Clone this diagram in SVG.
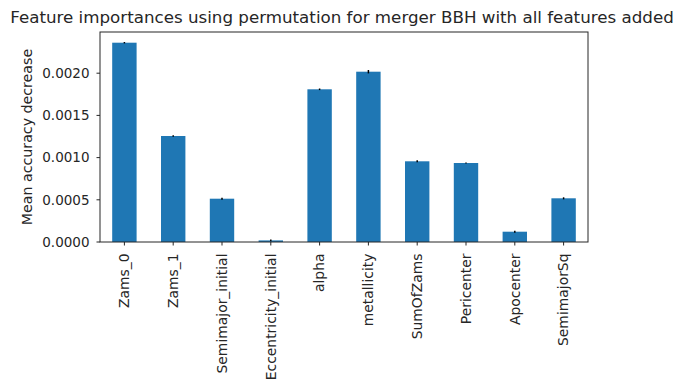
<svg xmlns="http://www.w3.org/2000/svg" width="676" height="383" viewBox="0 0 676 383">
<style>
text{font-family:"DejaVu Sans",sans-serif;fill:#262626;}
.tl{font-size:13.5px;}
.xl{font-size:13.9px;}
.bar{fill:#1f77b4;}
.tk{stroke:#262626;stroke-width:1;}
.err{stroke:#000;stroke-width:1.5;}
</style>
<rect width="676" height="383" fill="#fff"/>
<text x="342" y="22.5" font-size="16.7px" text-anchor="middle">Feature importances using permutation for merger BBH with all features added</text>
<g id="bars">
<rect class="bar" x="112.2" y="42.7" width="24.4" height="199.3"/>
<rect class="bar" x="161" y="136" width="24.4" height="106"/>
<rect class="bar" x="209.8" y="198.7" width="24.4" height="43.3"/>
<rect class="bar" x="258.6" y="240.4" width="24.4" height="1.6"/>
<rect class="bar" x="307.4" y="89.3" width="24.4" height="152.7"/>
<rect class="bar" x="356.2" y="71.7" width="24.4" height="170.3"/>
<rect class="bar" x="405" y="161.3" width="24.4" height="80.7"/>
<rect class="bar" x="453.8" y="163" width="24.4" height="79"/>
<rect class="bar" x="502.6" y="231.7" width="24.4" height="10.3"/>
<rect class="bar" x="551.4" y="198.3" width="24.4" height="43.7"/>
</g>
<g id="errorbars">
<line class="err" x1="124.4" y1="42" x2="124.4" y2="43.4"/>
<line class="err" x1="173.2" y1="135.2" x2="173.2" y2="136.8"/>
<line class="err" x1="222" y1="197.7" x2="222" y2="199.7"/>
<line class="err" x1="270.8" y1="239.6" x2="270.8" y2="241.2"/>
<line class="err" x1="319.6" y1="88.5" x2="319.6" y2="90.1"/>
<line class="err" x1="368.4" y1="70" x2="368.4" y2="73.4"/>
<line class="err" x1="417.2" y1="160.3" x2="417.2" y2="162.3"/>
<line class="err" x1="466" y1="162.4" x2="466" y2="163.6"/>
<line class="err" x1="514.8" y1="230.7" x2="514.8" y2="232.7"/>
<line class="err" x1="563.6" y1="197.3" x2="563.6" y2="199.3"/>
</g>
<g id="axes">
<rect x="100" y="32" width="488" height="210" fill="none" stroke="#262626" stroke-width="1"/>
<line class="tk" x1="96.5" y1="242" x2="100" y2="242"/>
<line class="tk" x1="96.5" y1="199.8" x2="100" y2="199.8"/>
<line class="tk" x1="96.5" y1="157.6" x2="100" y2="157.6"/>
<line class="tk" x1="96.5" y1="115.4" x2="100" y2="115.4"/>
<line class="tk" x1="96.5" y1="73.2" x2="100" y2="73.2"/>
<text class="tl" x="89.5" y="246.8" text-anchor="end">0.0000</text>
<text class="tl" x="89.5" y="204.6" text-anchor="end">0.0005</text>
<text class="tl" x="89.5" y="162.4" text-anchor="end">0.0010</text>
<text class="tl" x="89.5" y="120.2" text-anchor="end">0.0015</text>
<text class="tl" x="89.5" y="78" text-anchor="end">0.0020</text>
<text font-size="14.2px" transform="translate(31.5,137) rotate(-90)" text-anchor="middle">Mean accuracy decrease</text>
<line class="tk" x1="124.4" y1="242" x2="124.4" y2="245.5"/>
<line class="tk" x1="173.2" y1="242" x2="173.2" y2="245.5"/>
<line class="tk" x1="222" y1="242" x2="222" y2="245.5"/>
<line class="tk" x1="270.8" y1="242" x2="270.8" y2="245.5"/>
<line class="tk" x1="319.6" y1="242" x2="319.6" y2="245.5"/>
<line class="tk" x1="368.4" y1="242" x2="368.4" y2="245.5"/>
<line class="tk" x1="417.2" y1="242" x2="417.2" y2="245.5"/>
<line class="tk" x1="466" y1="242" x2="466" y2="245.5"/>
<line class="tk" x1="514.8" y1="242" x2="514.8" y2="245.5"/>
<line class="tk" x1="563.6" y1="242" x2="563.6" y2="245.5"/>
<text class="xl" transform="translate(129.2,253.5) rotate(-90)" text-anchor="end">Zams_0</text>
<text class="xl" transform="translate(178,253.5) rotate(-90)" text-anchor="end">Zams_1</text>
<text class="xl" transform="translate(226.8,253.5) rotate(-90)" text-anchor="end">Semimajor_initial</text>
<text class="xl" transform="translate(275.6,253.5) rotate(-90)" text-anchor="end">Eccentricity_initial</text>
<text class="xl" transform="translate(324.4,253.5) rotate(-90)" text-anchor="end">alpha</text>
<text class="xl" transform="translate(373.2,253.5) rotate(-90)" text-anchor="end">metallicity</text>
<text class="xl" transform="translate(422,253.5) rotate(-90)" text-anchor="end">SumOfZams</text>
<text class="xl" transform="translate(470.8,253.5) rotate(-90)" text-anchor="end">Pericenter</text>
<text class="xl" transform="translate(519.6,253.5) rotate(-90)" text-anchor="end">Apocenter</text>
<text class="xl" transform="translate(568.4,253.5) rotate(-90)" text-anchor="end">SemimajorSq</text>
</g>
</svg>
